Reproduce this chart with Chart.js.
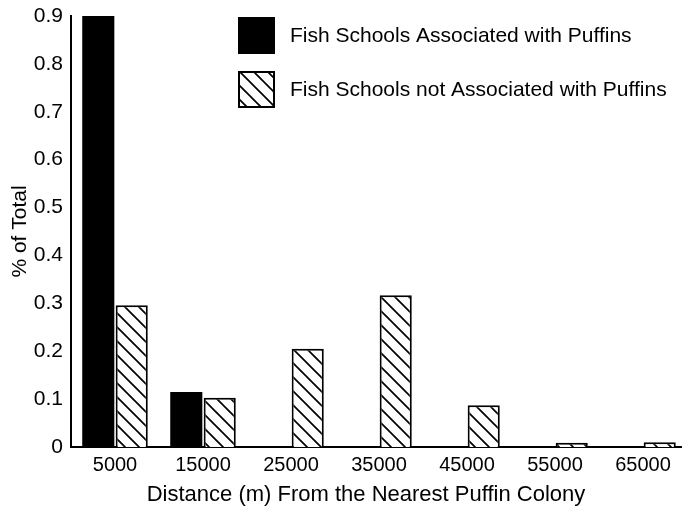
<!DOCTYPE html>
<html>
<head>
<meta charset="utf-8">
<script src="https://cdn.jsdelivr.net/npm/chart.js@4"></script>
<style>
  html, body { margin: 0; padding: 0; background: #fff; overflow: hidden; }
  canvas { display: block; }
</style>
</head>
<body>
<canvas id="chart" width="690" height="509"></canvas>
<script>
// Distance classes (m) from the nearest puffin colony
const distances = ['5000', '15000', '25000', '35000', '45000', '55000', '65000'];
// Share of fish schools in each distance class
const associated    = [0.9, 0.115, 0, 0, 0, 0, 0];
const notAssociated = [0.296, 0.103, 0.205, 0.317, 0.087, 0.009, 0.01];
const seriesLabels = ['Fish Schools Associated with Puffins', 'Fish Schools not Associated with Puffins'];
const yTickLabels = ['0', '0.1', '0.2', '0.3', '0.4', '0.5', '0.6', '0.7', '0.8', '0.9'];
const xTitle = 'Distance (m) From the Nearest Puffin Colony';

const FONT = 'Liberation Sans, Arial, Helvetica, sans-serif';

// Back-slash diagonal hatching
function makeHatch() {
  const s = 14;
  const c = document.createElement('canvas');
  c.width = s; c.height = s;
  const g = c.getContext('2d');
  g.fillStyle = '#fff';
  g.fillRect(0, 0, s, s);
  g.strokeStyle = '#000';
  g.lineWidth = 1.7;
  g.beginPath();
  g.moveTo(-2, -2); g.lineTo(s + 2, s + 2);
  g.moveTo(-2, s - 2); g.lineTo(2, s + 2);
  g.moveTo(s - 2, -2); g.lineTo(s + 2, 2);
  g.stroke();
  return g.createPattern(c, 'repeat');
}
const hatch = makeHatch();

// Legend drawn inside the plot area, upper right, plus the x-axis caption
const boxLegend = {
  id: 'boxLegend',
  afterDraw(chart) {
    const ctx = chart.ctx;
    const a = chart.chartArea;
    const x = a.left + 167;
    const rows = [a.top + 1, a.top + 55];
    ctx.save();
    chart.data.datasets.forEach((ds, i) => {
      const y = rows[i];
      const w = 37, h = 37;
      ctx.fillStyle = ds.backgroundColor;
      ctx.fillRect(x, y, w, h);
      if (ds.borderWidth) {
        ctx.lineWidth = 2;
        ctx.strokeStyle = '#000';
        ctx.strokeRect(x + 1, y + 1, w - 2, h - 2);
      }
      ctx.fillStyle = '#000';
      ctx.font = '21px ' + FONT;
      ctx.textBaseline = 'middle';
      ctx.fillText(ds.label, x + 52, y + h / 2 + 1);
    });
    ctx.font = '22px ' + FONT;
    ctx.textAlign = 'center';
    ctx.textBaseline = 'middle';
    ctx.fillText(xTitle, a.left + 295, a.bottom + 48);
    ctx.restore();
  }
};

new Chart(document.getElementById('chart'), {
  type: 'bar',
  data: {
    labels: distances,
    datasets: [
      {
        label: seriesLabels[0],
        data: associated,
        backgroundColor: '#000',
        borderWidth: 0
      },
      {
        label: seriesLabels[1],
        data: notAssociated,
        backgroundColor: hatch,
        borderColor: '#000',
        borderWidth: 2
      }
    ]
  },
  options: {
    responsive: false,
    animation: false,
    devicePixelRatio: 1,
    layout: { padding: { top: 16, right: 3, left: 0, bottom: 0 } },
    datasets: { bar: { categoryPercentage: 0.76, barPercentage: 0.96 } },
    plugins: {
      legend: { display: false },
      tooltip: { enabled: false }
    },
    scales: {
      x: {
        grid: { display: false, drawTicks: false },
        border: { display: true, color: '#000', width: 2 },
        ticks: { color: '#000', font: { family: FONT, size: 20 }, padding: 6, maxRotation: 0 },
        afterFit(s) { s.height = 62; }
      },
      y: {
        min: 0,
        max: 0.9,
        grid: { display: false, drawTicks: false },
        border: { display: true, color: '#000', width: 2 },
        ticks: {
          stepSize: 0.1,
          color: '#000',
          font: { family: FONT, size: 21 },
          padding: 8,
          callback: (v, i) => yTickLabels[i]
        },
        title: {
          display: true,
          text: '% of Total',
          color: '#000',
          font: { family: FONT, size: 21 },
          padding: { top: 8, bottom: 0 }
        },
        afterFit(s) { s.width = 71; s.paddingTop = 0; s.paddingBottom = 0; }
      }
    }
  },
  plugins: [boxLegend]
});
</script>
</body>
</html>
